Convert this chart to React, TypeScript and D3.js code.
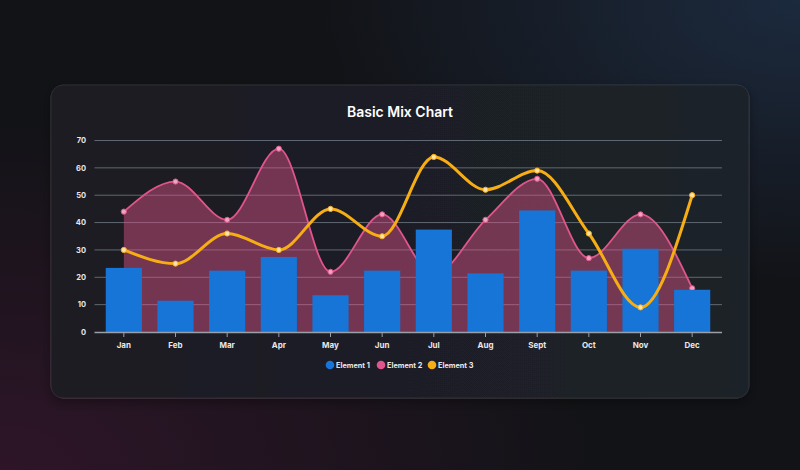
import React from "react";
import * as d3 from "d3";

const months = ["Jan", "Feb", "Mar", "Apr", "May", "Jun", "Jul", "Aug", "Sept", "Oct", "Nov", "Dec"];
const element1 = [23, 11, 22, 27, 13, 22, 37, 21, 44, 22, 30, 15];
const element2 = [44, 55, 41, 67, 22, 43, 21, 41, 56, 27, 43, 16];
const element3 = [30, 25, 36, 30, 45, 35, 64, 52, 59, 36, 9, 50];
const yTicks = [0, 10, 20, 30, 40, 50, 60, 70];
const seriesNames = ["Element 1", "Element 2", "Element 3"];
const seriesColors = ["#1675d6", "#e0558b", "#f7ad14"];

const W = 800;
const H = 470;
const FONT = "Inter, 'Open Sans', sans-serif";

export default function App() {
  const x = d3.scaleBand<string>().domain(months).range([98, 718]).paddingInner(0.3).paddingOuter(0.15);
  const xc = (m: string) => (x(m) as number) + x.bandwidth() / 2;
  const y = d3.scaleLinear().domain([0, 70]).range([332, 140.5]);

  const area2 = d3
    .area<number>()
    .x((_, i) => xc(months[i]))
    .y0(y(0))
    .y1((d) => y(d))
    .curve(d3.curveMonotoneX);
  const line2 = d3
    .line<number>()
    .x((_, i) => xc(months[i]))
    .y((d) => y(d))
    .curve(d3.curveMonotoneX);

  const legendX = [330, 381, 432];

  return (
    <div style={{ position: "fixed", left: 0, top: 0, width: W, height: H }}>
      <svg width={W} height={H} style={{ display: "block" }}>
        <defs>
          <radialGradient id="bgPurple" cx="0" cy="1" r="0.75">
            <stop offset="0%" stopColor="#2e1528" stopOpacity="1" />
            <stop offset="100%" stopColor="#2e1528" stopOpacity="0" />
          </radialGradient>
          <radialGradient id="bgBlue" cx="1" cy="0" r="0.6">
            <stop offset="0%" stopColor="#1c2a3e" stopOpacity="1" />
            <stop offset="100%" stopColor="#1c2a3e" stopOpacity="0" />
          </radialGradient>
          <linearGradient id="cardFill" x1="0" y1="0" x2="1" y2="0">
            <stop offset="0%" stopColor="#1c1d23" />
            <stop offset="100%" stopColor="#1e2129" />
          </linearGradient>
          <filter id="cardShadow" x="-10%" y="-10%" width="120%" height="130%">
            <feDropShadow dx="0" dy="4" stdDeviation="6" floodColor="#000" floodOpacity="0.35" />
          </filter>
        </defs>
        <rect x={0} y={0} width={W} height={H} fill="#121317" />
        <rect x={0} y={0} width={W} height={H} fill="url(#bgPurple)" />
        <rect x={0} y={0} width={W} height={H} fill="url(#bgBlue)" />

        <rect
          x={51}
          y={85}
          width={698}
          height={313}
          rx={12}
          fill="url(#cardFill)"
          stroke="rgba(255,255,255,0.08)"
          filter="url(#cardShadow)"
        />

        <text
          x={400}
          y={116.5}
          textAnchor="middle"
          fill="#ffffff"
          fontFamily={FONT}
          fontWeight={600}
          fontSize={14}
        >
          Basic Mix Chart
        </text>

        {/* grid */}
        {yTicks.map((t) => (
          <g key={t}>
            {t > 0 && (
              <line x1={94.5} x2={722} y1={y(t)} y2={y(t)} stroke="#5f6872" strokeWidth={1} />
            )}
            <text
              x={86}
              y={y(t) + 2.8}
              textAnchor="end"
              fill="#e8e8ea"
              fontFamily={FONT}
              fontWeight={700}
              fontSize={7.5}
            >
              {t}
            </text>
          </g>
        ))}

        {/* Element 2 area */}
        <path d={area2(element2) || ""} fill="#e0558b" fillOpacity={0.45} />
        <path d={line2(element2) || ""} fill="none" stroke="#e0558b" strokeWidth={1.8} />
        {element2.map((v, i) => (
          <circle key={i} cx={xc(months[i])} cy={y(v)} r={2.6} fill="#f1a2c0" stroke="#e0558b" strokeWidth={1} />
        ))}

        {/* Element 1 bars */}
        {element1.map((v, i) => (
          <rect
            key={i}
            x={x(months[i]) as number}
            y={y(v) - 1.2}
            width={x.bandwidth()}
            height={y(0) - y(v) + 1.2}
            fill="#1675d6"
          />
        ))}

        {/* Element 3 line */}
        <path d={line2(element3) || ""} fill="none" stroke="#f7ad14" strokeWidth={3} />
        {element3.map((v, i) => (
          <circle key={i} cx={xc(months[i])} cy={y(v)} r={2.6} fill="#fde3a8" stroke="#f7ad14" strokeWidth={1} />
        ))}

        {/* x axis */}
        <line x1={94.5} x2={722} y1={y(0) + 0.5} y2={y(0) + 0.5} stroke="#9aa0a8" strokeWidth={1.5} />
        {months.map((m) => (
          <g key={m}>
            <line x1={xc(m)} x2={xc(m)} y1={y(0)} y2={y(0) + 5} stroke="#9aa0a8" strokeWidth={1} />
            <text
              x={xc(m)}
              y={348}
              textAnchor="middle"
              fill="#e8e8ea"
              fontFamily={FONT}
              fontWeight={700}
              fontSize={8}
            >
              {m}
            </text>
          </g>
        ))}

        {/* legend */}
        {seriesNames.map((n, i) => (
          <g key={n}>
            <circle cx={legendX[i]} cy={365} r={4.3} fill={seriesColors[i]} />
            <text
              x={legendX[i] + 6}
              y={367.7}
              fill="#e8e8ea"
              fontFamily={FONT}
              fontWeight={700}
              fontSize={7.3}
            >
              {n}
            </text>
          </g>
        ))}
      </svg>
    </div>
  );
}
